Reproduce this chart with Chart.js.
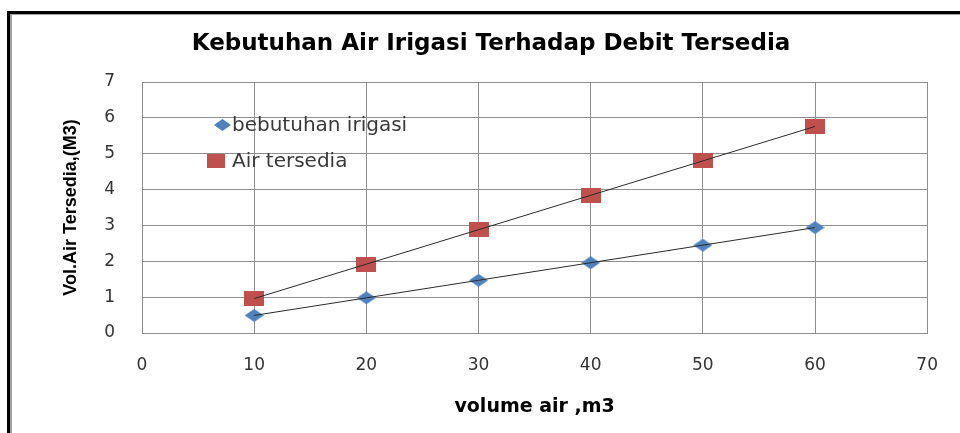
<!DOCTYPE html>
<html>
<head>
<meta charset="utf-8">
<script src="https://cdn.jsdelivr.net/npm/chart.js@4/dist/chart.umd.min.js"></script>
<style>
  html, body { margin: 0; padding: 0; background: #fff; }
  #wrap { position: relative; width: 960px; height: 433px; overflow: hidden; }
  #c { position: absolute; left: 0; top: 0; }
  .frame1 { position: absolute; left: 7px; top: 11px; width: 960px; height: 440px;
            border-top: 3px solid #000; border-left: 3px solid #000; pointer-events: none; }
  .frame2 { position: absolute; left: 10px; top: 14px; width: 960px; height: 440px;
            border-top: 1px solid #a0a0a0; border-left: 2px solid #a0a0a0; pointer-events: none; }
</style>
</head>
<body>
<div id="wrap">
  <canvas id="c" width="960" height="433"></canvas>
  <div class="frame1"></div>
  <div class="frame2"></div>
</div>
<script>
// ---- data ----
const volumeAir = [10, 20, 30, 40, 50, 60];
const kebutuhanIrigasi = [0.49, 0.98, 1.47, 1.96, 2.45, 2.94];
const airTersedia = [0.96, 1.92, 2.88, 3.84, 4.80, 5.76];
const seriesLabels = ['bebutuhan irigasi', 'Air tersedia'];
const xTicks = [0, 10, 20, 30, 40, 50, 60, 70];
const yTicks = [0, 1, 2, 3, 4, 5, 6, 7];
const chartTitle = 'Kebutuhan Air Irigasi Terhadap Debit Tersedia';
const xTitle = 'volume air ,m3';
const yTitle = 'Vol.Air Tersedia,(M3)';

// ---- marker images (wide shapes like the reference) ----
function makeDiamond(w, h, color) {
  const cv = document.createElement('canvas');
  cv.width = w; cv.height = h;
  const g = cv.getContext('2d');
  g.fillStyle = color;
  g.beginPath();
  g.moveTo(w / 2, 0); g.lineTo(w, h / 2); g.lineTo(w / 2, h); g.lineTo(0, h / 2);
  g.closePath(); g.fill();
  return cv;
}
function makeRect(w, h, color) {
  const cv = document.createElement('canvas');
  cv.width = w; cv.height = h;
  const g = cv.getContext('2d');
  g.fillStyle = color;
  g.fillRect(0, 0, w, h);
  return cv;
}
const blue = '#4F81BD', red = '#C0504D';
const diamondImg = makeDiamond(19, 13, blue);
const squareImg = makeRect(20, 15, red);
const legendDiamond = makeDiamond(17, 12, blue);
const legendSquare = makeRect(18, 14, red);

const toXY = (xs, ys) => xs.map((x, i) => ({ x: x, y: ys[i] }));

const legendPlugin = {
  id: 'inLegend',
  afterDatasetsDraw(chart) {
    const ctx = chart.ctx;
    const a = chart.chartArea;
    ctx.save();
    ctx.font = '20px "DejaVu Sans"';
    ctx.fillStyle = '#3a3a3a';
    ctx.textBaseline = 'middle';
    ctx.textAlign = 'left';
    const items = [
      { img: legendDiamond, cx: a.left + 80, cy: a.top + 43, label: seriesLabels[0] },
      { img: legendSquare, cx: a.left + 74, cy: a.top + 79, label: seriesLabels[1] }
    ];
    items.forEach(it => {
      ctx.drawImage(it.img, Math.round(it.cx - it.img.width / 2), Math.round(it.cy - it.img.height / 2));
      ctx.fillText(it.label, a.left + 90, it.cy + 1);
    });
    ctx.restore();
  }
};

new Chart(document.getElementById('c'), {
  type: 'line',
  data: {
    datasets: [
      { label: seriesLabels[0], data: toXY(volumeAir, kebutuhanIrigasi), showLine: true,
        borderColor: '#2a2a2a', borderWidth: 1, pointRadius: 0, order: 0 },
      { label: seriesLabels[1], data: toXY(volumeAir, airTersedia), showLine: true,
        borderColor: '#2a2a2a', borderWidth: 1, pointRadius: 0, order: 0 },
      { label: seriesLabels[0] + ' marker', data: toXY(volumeAir, kebutuhanIrigasi), showLine: false,
        pointStyle: diamondImg, pointRadius: 10, order: 1 },
      { label: seriesLabels[1] + ' marker', data: toXY(volumeAir, airTersedia), showLine: false,
        pointStyle: squareImg, pointRadius: 10, order: 1 }
    ]
  },
  options: {
    responsive: false,
    animation: false,
    devicePixelRatio: 1,
    layout: { padding: { left: 53, right: 31, top: 0, bottom: 0 } },
    plugins: {
      legend: { display: false },
      tooltip: { enabled: false },
      title: {
        display: true,
        text: chartTitle,
        color: '#000',
        font: { family: 'DejaVu Sans', size: 23, weight: 'bold', lineHeight: 1.2 },
        padding: { top: 30, bottom: 24.4 }
      }
    },
    scales: {
      x: {
        type: 'linear',
        min: 0, max: 70,
        afterBuildTicks(s) { s.ticks = xTicks.map(v => ({ value: v })); },
        afterFit(s) { s.height = 100; },
        grid: { color: '#8f8f8f', lineWidth: 1, drawTicks: false },
        border: { color: '#8f8f8f', width: 1 },
        ticks: { color: '#333', padding: 22, font: { family: 'DejaVu Sans', size: 17 }, maxRotation: 0 },
        title: { display: true, text: xTitle, color: '#000',
                 font: { family: 'DejaVu Sans', size: 19, weight: 'bold', lineHeight: 1.2 },
                 padding: { top: 0, bottom: 15 } }
      },
      y: {
        type: 'linear',
        min: 0, max: 7,
        afterBuildTicks(s) { s.ticks = yTicks.map(v => ({ value: v })); },
        afterFit(s) { s.width = 89; },
        grid: { color: '#8f8f8f', lineWidth: 1, drawTicks: false },
        border: { color: '#8f8f8f', width: 1 },
        ticks: { color: '#333', padding: 27, font: { family: 'DejaVu Sans', size: 17 } },
        title: { display: true, text: yTitle, color: '#000',
                 font: { family: '"Liberation Sans"', size: 18, weight: 'bold', lineHeight: 1.2 },
                 padding: { top: 7, bottom: 0 } }
      }
    }
  },
  plugins: [legendPlugin]
});
</script>
</body>
</html>
